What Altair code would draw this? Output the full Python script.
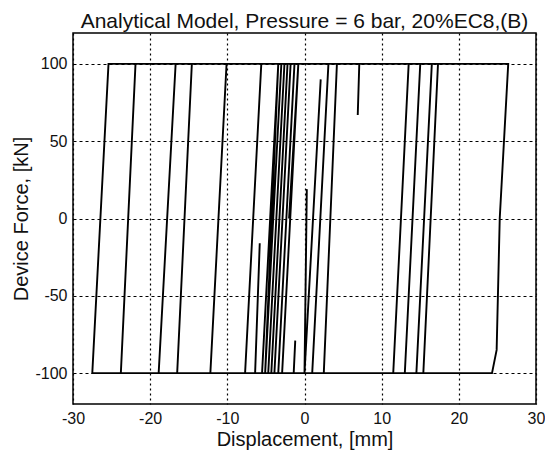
import altair as alt
import pandas as pd

# Path of the hysteresis response (displacement in mm, device force in kN), in time order
disp = [
    -2.0, -0.8, -2.9, -3.4, -1.3, -3.4, -5.1, -3.0, -2.2, -4.3, -4.7, -2.6, -1.8, -3.9,
    -5.5, -3.4, 3.1, 1.0, -7.7, -5.6, 4.2, 2.5, 0.0, 2.1, 0.0, -12.2, -10.1, 7.1, 6.9,
    7.1, 13.5, 11.5, -6.4, -5.8, -6.4, -16.5, -14.6, 15.0, 13.0, -18.9, -16.7, 16.5,
    14.5, -23.8, -21.9, 17.3, 15.4, -1.4, -1.2, -1.4, -27.5, -25.4, 26.4, 25.3, 24.9,
    24.3, 0.0, 0.3,
]
force = [
    0, 100, -100, -100, 100, 100, -100, 100, 100, -100, -100, 100, 100, -100,
    -100, 100, 100, -100, -100, 100, 100, -100, -100, 90, -100, -100, 100, 100, 67,
    100, 100, -100, -100, -16, -100, -100, 100, 100, -100, -100, 100, 100,
    -100, -100, 100, 100, -100, -100, -79, -100, -100, 100, 100, 0, -85,
    -100, -100, 19,
]

x_ticks = [-30, -20, -10, 0, 10, 20, 30]
y_ticks = [-100, -50, 0, 50, 100]

df = pd.DataFrame({"d": disp, "f": force, "i": list(range(len(disp)))})

FONT = "Liberation Sans"

chart = (
    alt.Chart(df)
    .mark_line(color="black", strokeWidth=1.9)
    .encode(
        x=alt.X(
            "d:Q",
            scale=alt.Scale(domain=[-30, 30], nice=False, zero=False),
            axis=alt.Axis(
                values=x_ticks,
                title="Displacement, [mm]",
                labelExpr="'' + datum.value",
                labelFlush=False,
                grid=True,
                gridColor="black",
                gridDash=[2, 3],
                gridWidth=1.2,
                gridOpacity=1,
                ticks=False,
                domain=False,
                labelPadding=6,
                titlePadding=3,
            ),
        ),
        y=alt.Y(
            "f:Q",
            scale=alt.Scale(domain=[-120, 120], nice=False, zero=False),
            axis=alt.Axis(
                values=y_ticks,
                title="Device Force, [kN]",
                labelExpr="'' + datum.value",
                labelFlush=False,
                grid=True,
                gridColor="black",
                gridDash=[3, 3],
                gridWidth=1.2,
                gridOpacity=1,
                ticks=False,
                domain=False,
                labelPadding=6,
                titlePadding=3,
            ),
        ),
        order=alt.Order("i:Q"),
    )
    .properties(
        width=463,
        height=371,
        autosize=alt.AutoSizeParams(type="none"),
        padding={"left": 65, "top": 25, "right": 9, "bottom": 47},
        title=alt.TitleParams(
            "Analytical Model, Pressure = 6 bar, 20%EC8,(B)",
            fontSize=21,
            font=FONT,
            fontWeight="normal",
            color="#111",
            offset=1,
        ),
    )
    .configure_axis(
        labelFont=FONT,
        titleFont=FONT,
        labelFontSize=16,
        titleFontSize=20,
        titleFontWeight="normal",
        labelColor="#111",
        titleColor="#111",
    )
    .configure_view(stroke="black", strokeWidth=1.5)
)

chart.save("out.html", embed_options={"renderer": "svg", "actions": False})
